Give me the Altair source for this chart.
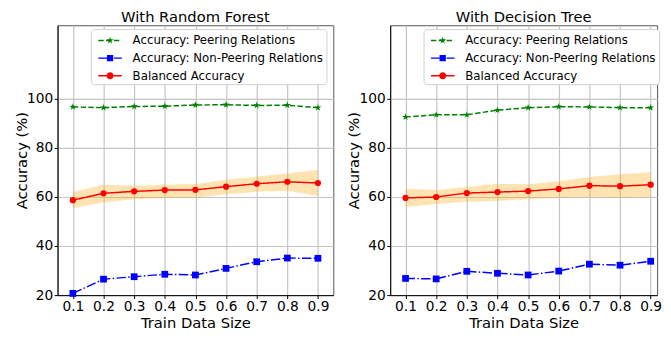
import math
import altair as alt
import pandas as pd

# ---------------- data ----------------
train_sizes = [0.1, 0.2, 0.3, 0.4, 0.5, 0.6, 0.7, 0.8, 0.9]

rf_peer = [96.7, 96.4, 96.9, 97.0, 97.5, 97.6, 97.3, 97.4, 96.4]
rf_nonpeer = [20.7, 26.5, 27.5, 28.5, 28.2, 30.9, 33.6, 35.1, 35.0]
rf_bal = [58.7, 61.5, 62.3, 62.8, 62.9, 64.2, 65.4, 66.2, 65.7]
rf_bal_lo = [55.5, 57.7, 59.1, 59.7, 59.7, 61.1, 62.1, 62.5, 60.4]
rf_bal_hi = [62.0, 65.0, 64.6, 65.0, 65.3, 67.0, 68.3, 69.6, 71.0]

dt_peer = [92.6, 93.5, 93.5, 95.4, 96.4, 96.8, 96.7, 96.4, 96.4]
dt_nonpeer = [26.8, 26.6, 29.7, 28.9, 28.2, 29.8, 32.6, 32.2, 33.8]
dt_bal = [59.6, 60.0, 61.6, 62.0, 62.4, 63.3, 64.6, 64.4, 65.0]
dt_bal_lo = [55.9, 57.1, 58.1, 58.4, 59.1, 59.7, 60.0, 59.7, 60.0]
dt_bal_hi = [63.4, 62.8, 64.1, 65.4, 65.2, 66.4, 68.1, 69.3, 70.1]

series_names = ["Accuracy: Peering Relations",
                "Accuracy: Non-Peering Relations",
                "Balanced Accuracy"]
panel_titles = ["With Random Forest", "With Decision Tree"]
y_ticks = [20, 40, 60, 80, 100]

# ---------------- styles ----------------
series_colors = ["#008000", "#0000ff", "#ff0000"]
dash_patterns = [[5.5, 2.4], [9.6, 2.4, 1.5, 2.4], [1, 0]]
marker_sizes = [55, 40, 49]
FONT = "DejaVu Sans"


def star_path(cx, cy, r_out, scale=1.0):
    pts = []
    for k in range(10):
        ang = math.radians(-90 + 36 * k)
        r = r_out if k % 2 == 0 else r_out * 0.382
        pts.append(((cx + r * math.cos(ang)) / scale, (cy + r * math.sin(ang)) / scale))
    return "M" + "L".join(f"{x:.3f},{y:.3f}" for x, y in pts) + "Z"


# legend symbols: line segments + marker drawn as one path (units: 1 = 9 px)
U = 9.0
MC = 8.0  # marker centre offset inside symbol box (px)
HW = 0.75


def seg(a, b):
    a, b = (a + MC) / U, (b + MC) / U
    return f"M{a:.3f},{-HW/U:.3f}H{b:.3f}V{HW/U:.3f}H{a:.3f}Z"


def square(h):
    a, b = (MC - h) / U, (MC + h) / U
    return f"M{a:.3f},{-h/U:.3f}H{b:.3f}V{h/U:.3f}H{a:.3f}Z"


def circle(r):
    a, b, rr = (MC - r) / U, (MC + r) / U, r / U
    return f"M{a:.3f},0A{rr:.3f},{rr:.3f} 0 1 1 {b:.3f},0A{rr:.3f},{rr:.3f} 0 1 1 {a:.3f},0Z"


legend_paths = [
    seg(-12, -6.45) + seg(-4.05, 1.5) + seg(3.9, 9.45) + seg(11.85, 12) + star_path(MC, 0, 3.8, U),
    seg(-12, -2.4) + seg(0, 1.5) + seg(3.9, 12) + square(3.2),
    seg(-12, 12) + circle(3.6),
]
plot_shapes = [star_path(0, 0, 1.0), "square", "circle"]

color_scale = alt.Scale(domain=series_names, range=series_colors)
PLOT_H = 275


def panel(title, peer, nonpeer, bal, lo, hi, width, x_max):
    rows = []
    for name, vals in zip(series_names, [peer, nonpeer, bal]):
        for x, v in zip(train_sizes, vals):
            rows.append({"size": x, "acc": v, "series": name})
    df = pd.DataFrame(rows)
    band = pd.DataFrame({"size": train_sizes, "lo": lo, "hi": hi})

    xscale = alt.Scale(domain=[0.05, x_max], nice=False, zero=False)
    yscale = alt.Scale(domain=[20, 130], nice=False, zero=False)
    xaxis = alt.Axis(values=train_sizes, format=".1f", title="Train Data Size",
                     labelPadding=1, labelOverlap=False, labelFlush=False,
                     titleY=33, titleBaseline="alphabetic")
    yaxis = alt.Axis(values=y_ticks, title="Accuracy (%)", labelOverlap=False,
                     labelPadding=1.5, labelFlush=False,
                     titleX=-32, titleBaseline="alphabetic")
    xenc = alt.X("size:Q", scale=xscale, axis=xaxis)
    yenc = alt.Y("acc:Q", scale=yscale, axis=yaxis)

    area = alt.Chart(band).mark_area(color="orange", opacity=0.3).encode(
        x=alt.X("size:Q", scale=xscale, axis=xaxis),
        y=alt.Y("lo:Q", scale=yscale, axis=yaxis),
        y2="hi:Q",
    )
    lines = alt.Chart(df).mark_line(strokeWidth=1.5).encode(
        x=xenc, y=yenc,
        color=alt.Color("series:N", scale=color_scale, legend=None),
        strokeDash=alt.StrokeDash("series:N",
                                  scale=alt.Scale(domain=series_names, range=dash_patterns),
                                  legend=None),
    )
    points = alt.Chart(df).mark_point(filled=True, opacity=1).encode(
        x=xenc, y=yenc,
        color=alt.Color("series:N", scale=color_scale, legend=None),
        shape=alt.Shape("series:N", scale=alt.Scale(domain=series_names, range=plot_shapes),
                        legend=None),
        size=alt.Size("series:N", scale=alt.Scale(domain=series_names, range=marker_sizes),
                      legend=None),
    )
    leg = alt.Legend(orient="none", legendX=34, legendY=4, title=None)
    legend_layer = alt.Chart(df).transform_filter("false").mark_point(
        filled=True, opacity=1).encode(
        color=alt.Color("series:N", scale=color_scale, legend=leg),
        shape=alt.Shape("series:N", scale=alt.Scale(domain=series_names, range=legend_paths),
                        legend=leg),
    )
    return alt.layer(area, lines, points, legend_layer).resolve_scale(
        color="independent", shape="independent", size="independent",
        strokeDash="independent"
    ).properties(width=width, height=PLOT_H, title=title)


left = panel(panel_titles[0], rf_peer, rf_nonpeer, rf_bal, rf_bal_lo, rf_bal_hi, 281, 0.95)
# right panel is cut by the picture edge in the reference: same scale, narrower view
right = panel(panel_titles[1], dt_peer, dt_nonpeer, dt_bal, dt_bal_lo, dt_bal_hi, 272, 0.921)

chart = alt.hconcat(left, right, spacing=12).properties(
    padding={"left": 5.5, "top": -1.5, "right": 0, "bottom": -3}
).configure_view(stroke="#555555", strokeWidth=1).configure_axis(
    labelFont=FONT, titleFont=FONT, labelFontSize=14, titleFontSize=15,
    titleFontWeight="normal", labelColor="black", titleColor="black",
    domainColor="black", tickColor="black", tickSize=3.5, domainWidth=1,
    gridColor="#c4c4c4", gridWidth=1.2, labelOverlap=False,
).configure_title(
    font=FONT, fontSize=15, fontWeight="normal", color="black",
    baseline="alphabetic", offset=0.3,
).configure_legend(
    labelFont=FONT, labelFontSize=12, labelColor="black",
    symbolSize=324, rowPadding=3, padding=2.5, labelOffset=22,
    fillColor="white", strokeColor="#d0d0d0", cornerRadius=3,
    symbolStrokeWidth=0, labelLimit=400,
)

chart.save("out.html", embed_options={"renderer": "svg", "actions": False})
